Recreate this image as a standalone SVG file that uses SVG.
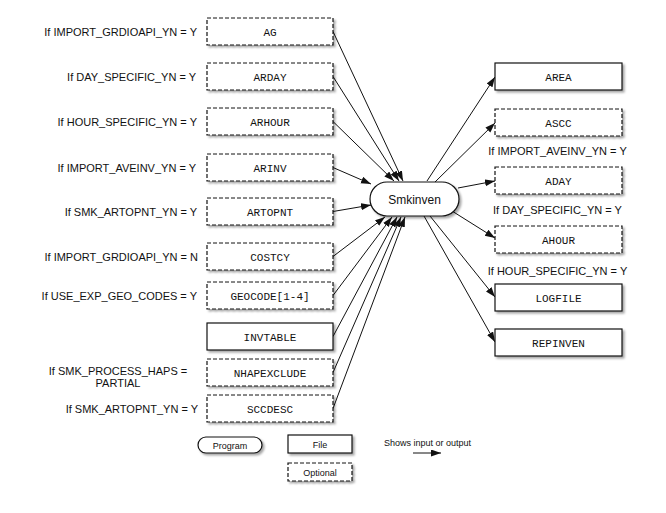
<svg xmlns="http://www.w3.org/2000/svg" width="666" height="513" viewBox="0 0 666 513">
  <style>
    .box { fill: #fff; stroke: #111; stroke-width: 1.2; filter: url(#shadow); }
    .opt { stroke-dasharray: 4 2; }
    .prog { fill: #fff; stroke: #111; stroke-width: 1.2; filter: url(#shadow); }
    .mono { font-family: "Liberation Mono", "Courier New", monospace; font-size: 11px; fill: #111; text-anchor: middle; }
    .cond { font-family: "Liberation Sans", Arial, sans-serif; font-size: 11px; fill: #111; }
    .left { text-anchor: end; }
    .mid { text-anchor: middle; }
    .legend { font-family: "Liberation Sans", Arial, sans-serif; font-size: 9px; fill: #111; }
    .edge { stroke: #111; stroke-width: 1; fill: none; marker-end: url(#arrow); }
  </style>
  <defs>
    <filter id="shadow" x="-10%" y="-20%" width="130%" height="160%">
      <feDropShadow dx="2" dy="2" stdDeviation="1.2" flood-color="#000" flood-opacity="0.35"/>
    </filter>
    <marker id="arrow" markerUnits="userSpaceOnUse" markerWidth="11" markerHeight="8" refX="10" refY="3.5" orient="auto">
      <path d="M0,0 L10,3.5 L0,7 z" fill="#111"/>
    </marker>
  </defs>
  <rect width="666" height="513" fill="#fff"/>

  <!-- connectors -->
  <g id="connectors">
    <line class="edge" x1="333" y1="31.5" x2="403" y2="181"/>
    <line class="edge" x1="333" y1="76.5" x2="399" y2="181"/>
    <line class="edge" x1="333" y1="121.5" x2="394" y2="181"/>
    <line class="edge" x1="333" y1="167.5" x2="371" y2="184"/>
    <line class="edge" x1="333" y1="211.5" x2="371" y2="205"/>
    <line class="edge" x1="333" y1="256.5" x2="385" y2="217"/>
    <line class="edge" x1="333" y1="295.5" x2="392" y2="217"/>
    <line class="edge" x1="333" y1="336.5" x2="397" y2="217"/>
    <line class="edge" x1="333" y1="372.5" x2="401" y2="217"/>
    <line class="edge" x1="333" y1="408.5" x2="405" y2="217"/>
    <line class="edge" x1="427" y1="181" x2="495" y2="77"/>
    <line class="edge" x1="435" y1="182" x2="495" y2="123"/>
    <line class="edge" x1="458" y1="188" x2="495" y2="181"/>
    <line class="edge" x1="452" y1="211" x2="495" y2="238"/>
    <line class="edge" x1="430" y1="216" x2="495" y2="297"/>
    <line class="edge" x1="424" y1="216" x2="495" y2="342"/>
  </g>

  <!-- program -->
  <g id="smkinven">
    <rect class="prog" x="370" y="182" width="89" height="34" rx="17" ry="17"/>
    <text x="414.5" y="203.5" font-family="Liberation Sans, Arial, sans-serif" font-size="12" text-anchor="middle" fill="#111">Smkinven</text>
  </g>

  <!-- input files -->
  <g id="ag">
    <text class="cond left" x="197" y="35.5">If IMPORT_GRDIOAPI_YN = Y</text>
    <rect class="box opt" x="207" y="18" width="126" height="27"/>
    <text class="mono" x="270" y="35.5">AG</text>
  </g>
  <g id="arday">
    <text class="cond left" x="196" y="80.5">If DAY_SPECIFIC_YN = Y</text>
    <rect class="box opt" x="207" y="63" width="126" height="27"/>
    <text class="mono" x="270" y="80.5">ARDAY</text>
  </g>
  <g id="arhour">
    <text class="cond left" x="197" y="125.5">If HOUR_SPECIFIC_YN = Y</text>
    <rect class="box opt" x="207" y="108" width="126" height="27"/>
    <text class="mono" x="270" y="125.5">ARHOUR</text>
  </g>
  <g id="arinv">
    <text class="cond left" x="196" y="171.5">If IMPORT_AVEINV_YN = Y</text>
    <rect class="box opt" x="207" y="154" width="126" height="27"/>
    <text class="mono" x="270" y="171.5">ARINV</text>
  </g>
  <g id="artopnt">
    <text class="cond left" x="197" y="215.5">If SMK_ARTOPNT_YN = Y</text>
    <rect class="box opt" x="207" y="198" width="126" height="27"/>
    <text class="mono" x="270" y="215.5">ARTOPNT</text>
  </g>
  <g id="costcy">
    <text class="cond left" x="198" y="260.5">If IMPORT_GRDIOAPI_YN = N</text>
    <rect class="box opt" x="207" y="243" width="126" height="27"/>
    <text class="mono" x="270" y="260.5">COSTCY</text>
  </g>
  <g id="geocode">
    <text class="cond left" x="197" y="299.5">If USE_EXP_GEO_CODES = Y</text>
    <rect class="box opt" x="207" y="282" width="126" height="27"/>
    <text class="mono" x="270" y="299.5">GEOCODE[1-4]</text>
  </g>
  <g id="invtable">
    <rect class="box" x="207" y="323" width="126" height="27"/>
    <text class="mono" x="270" y="340.5">INVTABLE</text>
  </g>
  <g id="nhapexclude">
    <text class="cond mid" x="118" y="375">If SMK_PROCESS_HAPS =</text>
    <text class="cond mid" x="118" y="387">PARTIAL</text>
    <rect class="box opt" x="207" y="359" width="126" height="27"/>
    <text class="mono" x="270" y="376.5">NHAPEXCLUDE</text>
  </g>
  <g id="sccdesc">
    <text class="cond left" x="198" y="412.5">If SMK_ARTOPNT_YN = Y</text>
    <rect class="box opt" x="207" y="395" width="126" height="27"/>
    <text class="mono" x="270" y="412.5">SCCDESC</text>
  </g>

  <!-- output files -->
  <g id="area">
    <rect class="box" x="495" y="63" width="127" height="27"/>
    <text class="mono" x="558.5" y="80.5">AREA</text>
  </g>
  <g id="ascc">
    <rect class="box opt" x="495" y="109" width="127" height="27"/>
    <text class="mono" x="558.5" y="126.5">ASCC</text>
    <text class="cond mid" x="557.5" y="155">If IMPORT_AVEINV_YN = Y</text>
  </g>
  <g id="aday">
    <rect class="box opt" x="495" y="167" width="127" height="27"/>
    <text class="mono" x="558.5" y="184.5">ADAY</text>
    <text class="cond mid" x="557.5" y="214">If DAY_SPECIFIC_YN = Y</text>
  </g>
  <g id="ahour">
    <rect class="box opt" x="495" y="226" width="127" height="27"/>
    <text class="mono" x="558.5" y="243.5">AHOUR</text>
    <text class="cond mid" x="557.5" y="275">If HOUR_SPECIFIC_YN = Y</text>
  </g>
  <g id="logfile">
    <rect class="box" x="495" y="284" width="127" height="27"/>
    <text class="mono" x="558.5" y="301.5">LOGFILE</text>
  </g>
  <g id="repinven">
    <rect class="box" x="495" y="329" width="127" height="27"/>
    <text class="mono" x="558.5" y="346.5">REPINVEN</text>
  </g>

  <!-- legend -->
  <g id="legend">
    <rect class="prog" x="198" y="437" width="64" height="16" rx="8" ry="8"/>
    <text class="legend" x="230" y="448.5" text-anchor="middle">Program</text>
    <rect class="box" x="288" y="435" width="64" height="18"/>
    <text class="legend" x="320" y="447.5" text-anchor="middle">File</text>
    <rect class="box opt" x="288" y="463" width="64" height="18"/>
    <text class="legend" x="320" y="475.5" text-anchor="middle">Optional</text>
    <text class="legend" x="384" y="446">Shows input or output</text>
    <line class="edge" x1="413" y1="453" x2="441" y2="453"/>
  </g>
</svg>
